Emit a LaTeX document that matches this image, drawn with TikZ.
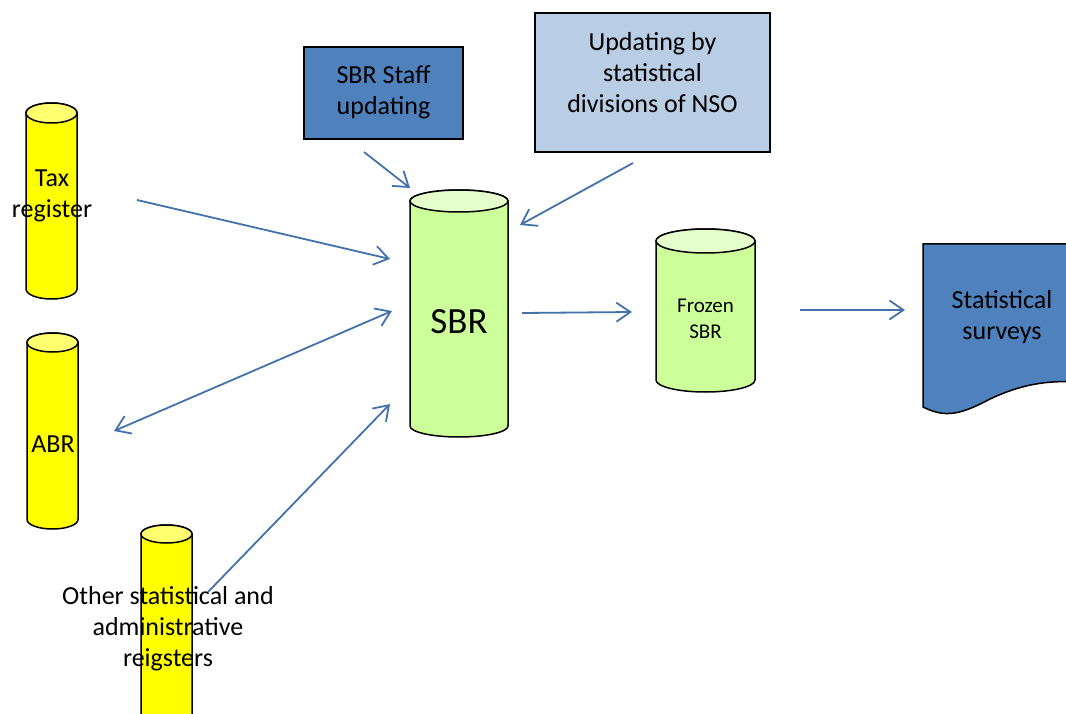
\documentclass[tikz,border=0pt]{standalone}
\usepackage{fontspec}
\setmainfont{Carlito}
\usetikzlibrary{arrows.meta}
\definecolor{officeblue}{HTML}{4F81BD}
\definecolor{paleblue}{HTML}{B9CDE5}
\definecolor{arrowblue}{HTML}{4372AA}
\definecolor{regyellow}{HTML}{FFFF00}
\definecolor{regyellowtop}{HTML}{FFFF70}
\definecolor{sbrgreen}{HTML}{CCFF99}
\definecolor{sbrgreentop}{HTML}{E5FFCC}
% drum: x, top centre y, bottom centre y, x radius, y radius, body colour, end colour
\newcommand{\drum}[7]{%
  \draw[fill=#6, draw=black, line width=1.5pt] ({#1-#4},#2) -- ({#1-#4},#3)
    arc[start angle=180, end angle=360, x radius=#4pt, y radius=#5pt]
    -- ({#1+#4},#2) arc[start angle=0, end angle=180, x radius=#4pt, y radius=#5pt] -- cycle;
  \draw[fill=#7, draw=black, line width=1.5pt] (#1,#2) ellipse [x radius=#4pt, y radius=#5pt];
}
\tikzset{
  bigtext/.style={font=\fontsize{26}{31}\selectfont, align=center, inner sep=0pt},
  textbox/.style={draw=black, line width=1.5pt, inner sep=0pt},
  flow/.style={draw=arrowblue, line width=1.8pt, -{Straight Barb[length=14pt,width=19pt]}},
}
\begin{document}
\begin{tikzpicture}[x=1pt, y=-1pt]
  \clip (0,0) rectangle (1066,714);
  % registers
  \drum{51.5}{113}{289}{25.5}{10}{regyellow}{regyellowtop}
  \node[bigtext] (tax) at (52,196) {Tax\\register};
  \drum{52.5}{342.5}{519.5}{25.5}{9.5}{regyellow}{regyellowtop}
  \node[bigtext] (abr) at (53,444) {ABR};
  \drum{166.5}{534}{760}{25.5}{9}{regyellow}{regyellowtop}
  \node[bigtext] (other) at (168,629) {Other statistical and\\administrative\\reigsters};
  % business register
  \drum{459}{201}{426}{49}{11}{sbrgreen}{sbrgreentop}
  \node[font=\fontsize{37}{44}\selectfont, inner sep=0pt] (sbr) at (459,322) {SBR};
  \drum{705.5}{241}{380}{49.5}{12}{sbrgreen}{sbrgreentop}
  \node[font=\fontsize{21}{26}\selectfont, align=center, inner sep=0pt] (frozen) at (705.5,319) {Frozen\\SBR};
  % update sources
  \node[textbox, fill=officeblue, minimum width=159pt, minimum height=92pt] (staffbox) at (383.5,93) {};
  \node[bigtext] (staff) at (383.5,92.5) {SBR Staff\\updating};
  \node[textbox, fill=paleblue, minimum width=235pt, minimum height=139pt] (divsbox) at (652.5,82.5) {};
  \node[bigtext] (divs) at (652.5,73) {Updating by\\statistical\\divisions of NSO};
  % output document
  \draw[fill=officeblue, draw=black, line width=1.5pt] (923,244) -- (1080,244) -- (1080,382)
    .. controls (1045,380) and (1020,385) .. (990,399)
    .. controls (960,415) and (945,418) .. (923,407) -- cycle;
  \node[bigtext] (surveys) at (1002,317) {Statistical\\surveys};
  % arrow ends
  \coordinate (taxout) at (137,200);
  \coordinate (taxin) at (390,259);
  \coordinate (abrend) at (114,431);
  \coordinate (abrin) at (392,311);
  \coordinate (otherout) at (208,592);
  \coordinate (otherin) at (390,404);
  \coordinate (staffout) at (364,152);
  \coordinate (staffin) at (410,188);
  \coordinate (divsout) at (633,163);
  \coordinate (divsin) at (520,225);
  \coordinate (sbrout) at (522,313);
  \coordinate (frozenin) at (632,312);
  \coordinate (frozenout) at (800,310);
  \coordinate (surveysin) at (905,310);
  \draw[flow] (taxout) -- (taxin);
  \draw[flow, {Straight Barb[length=14pt,width=19pt]}-{Straight Barb[length=14pt,width=19pt]}] (abrend) -- (abrin);
  \draw[flow] (otherout) -- (otherin);
  \draw[flow] (staffout) -- (staffin);
  \draw[flow] (divsout) -- (divsin);
  \draw[flow] (sbrout) -- (frozenin);
  \draw[flow] (frozenout) -- (surveysin);
\end{tikzpicture}
\end{document}
